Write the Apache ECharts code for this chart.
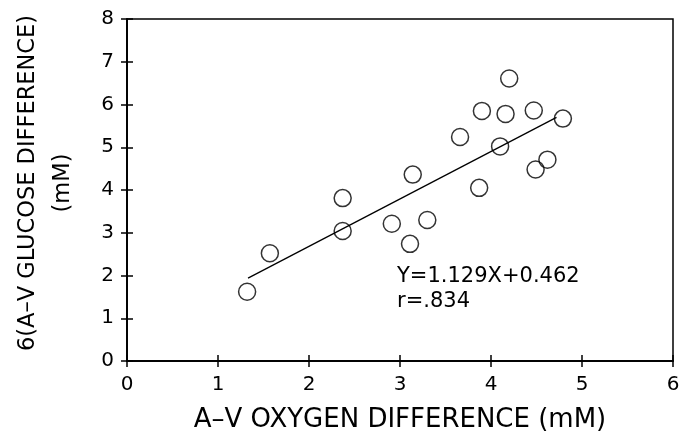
<!DOCTYPE html>
<html><head><meta charset="utf-8">
<script src="https://cdn.jsdelivr.net/npm/echarts@6/dist/echarts.min.js"></script>
<style>html,body{margin:0;padding:0;background:#fff}#c{width:692px;height:432px}</style>
</head><body><div id="c"></div>
<script>
const xValues = [1.32, 1.57, 2.37, 2.37, 2.91, 3.11, 3.30, 3.14, 3.66, 3.87, 3.90, 4.10, 4.16, 4.20, 4.47, 4.49, 4.62, 4.79];
const yValues = [1.62, 2.52, 3.04, 3.81, 3.21, 2.74, 3.30, 4.36, 5.24, 4.05, 5.85, 5.02, 5.78, 6.61, 5.86, 4.48, 4.71, 5.67];
const fitLine = [[1.33, 1.94], [4.72, 5.70]];
const xTicks = [0, 1, 2, 3, 4, 5, 6];
const yTicks = [0, 1, 2, 3, 4, 5, 6, 7, 8];
const xTitle = 'A–V OXYGEN DIFFERENCE (mM)';
const yTitle = '6(A–V GLUCOSE DIFFERENCE)\n(mM)';
const eqLines = ['Y=1.129X+0.462', 'r=.834'];

const font = 'DejaVu Sans';
const chart = echarts.init(document.getElementById('c'), null, {renderer: 'canvas'});
const baseX = {type: 'value', min: xTicks[0], max: xTicks[xTicks.length-1], interval: 1};
const baseY = {type: 'value', min: yTicks[0], max: yTicks[yTicks.length-1], interval: 1};
const lineSt = {show: true, lineStyle: {color: '#000', width: 1.5}};
chart.setOption({
  animation: false,
  backgroundColor: '#fff',
  grid: {left: 127, right: 19, top: 19, bottom: 71, show: true, borderColor: '#000', borderWidth: 1.5,
         backgroundColor: 'transparent', containLabel: false, outerBoundsMode: 'none'},
  xAxis: [
    Object.assign({}, baseX, {
      position: 'bottom',
      axisLine: lineSt,
      axisTick: {show: true, inside: false, length: 6, lineStyle: {color: '#000', width: 1.5}},
      axisLabel: {color: '#000', fontSize: 20, fontFamily: font, margin: 14, showMaxLabel: true},
      splitLine: {show: false},
      name: xTitle, nameLocation: 'middle', nameGap: 46,
      nameTextStyle: {color: '#000', fontSize: 26, fontFamily: font}
    }),
    Object.assign({}, baseX, {
      position: 'bottom', offset: 0,
      axisLine: lineSt,
      axisTick: {show: true, inside: true, length: 6, lineStyle: {color: '#000', width: 1.5}},
      axisLabel: {show: false}, splitLine: {show: false}
    })
  ],
  yAxis: [
    Object.assign({}, baseY, {
      position: 'left',
      axisLine: lineSt,
      axisTick: {show: true, inside: false, length: 6, lineStyle: {color: '#000', width: 1.5}},
      axisLabel: {color: '#000', fontSize: 20, fontFamily: font, margin: 13},
      splitLine: {show: false},
      name: yTitle, nameLocation: 'middle', nameGap: 46, nameRotate: 90,
      nameTextStyle: {color: '#000', fontSize: 22.5, fontFamily: font, lineHeight: 35, align: 'center', padding: [0, 0, 0, 14]}
    }),
    Object.assign({}, baseY, {
      position: 'left', offset: 0,
      axisLine: lineSt,
      axisTick: {show: true, inside: true, length: 6, lineStyle: {color: '#000', width: 1.5}},
      axisLabel: {show: false}, splitLine: {show: false}
    })
  ],
  series: [
    {
      type: 'line', data: fitLine, xAxisIndex: 0, yAxisIndex: 0,
      symbol: 'none', lineStyle: {color: '#000', width: 1.3}, z: 2
    },
    {
      type: 'scatter', data: xValues.map((x, i) => [x, yValues[i]]), xAxisIndex: 0, yAxisIndex: 0,
      symbol: 'circle', symbolSize: 17,
      itemStyle: {color: 'rgba(255,255,255,0)', borderColor: '#000', borderWidth: 1.5}, z: 3
    }
  ],
  graphic: [
    {type: 'text', left: 397, top: 266, style: {text: eqLines[0], fill: '#000', font: '21px "DejaVu Sans"'}},
    {type: 'text', left: 397, top: 291, style: {text: eqLines[1], fill: '#000', font: '21px "DejaVu Sans"'}}
  ]
});
</script></body></html>
